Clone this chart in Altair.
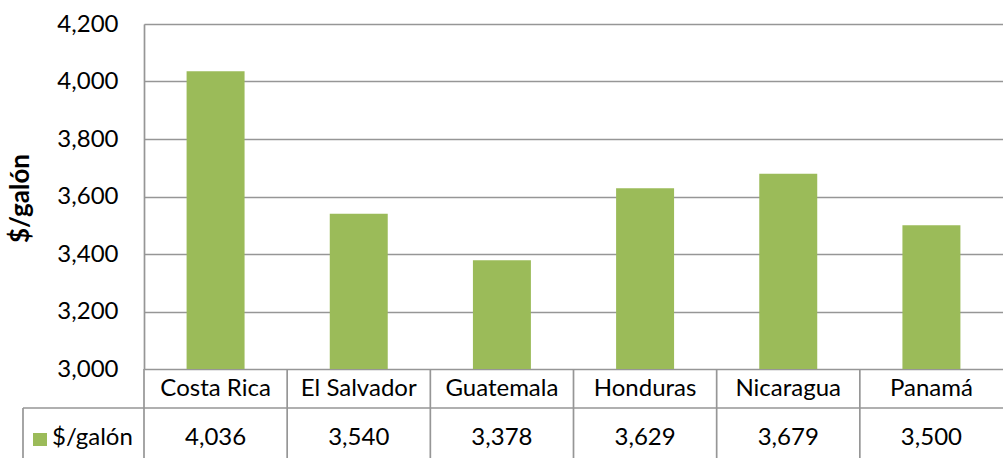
import altair as alt
import pandas as pd

countries = ["Costa Rica", "El Salvador", "Guatemala", "Honduras", "Nicaragua", "Panamá"]
values = [4036, 3540, 3378, 3629, 3679, 3500]
y_ticks = [3000, 3200, 3400, 3600, 3800, 4000, 4200]
series_name = "$/galón"

df = pd.DataFrame({"country": countries, "value": values})
df["label"] = df["value"].map(lambda v: f"{v:,}")
legend_df = pd.DataFrame({"label": [series_name]})

BAR = "#9BBB59"
GRID = "#969696"
FONT = "Lato"
FS = 24

xs = alt.Scale(paddingInner=0, paddingOuter=0)
X = alt.X("country:N", sort=countries, scale=xs, axis=None)

bars = alt.Chart(df).mark_bar(color=BAR, width=alt.RelativeBandSize(0.405), clip=True).encode(
    x=X,
    y=alt.Y(
        "value:Q",
        scale=alt.Scale(domain=[3000, 4200], nice=False, zero=False),
        axis=alt.Axis(
            values=y_ticks, format=",.0f", grid=True, gridColor=GRID, gridWidth=1.7,
            domain=True, domainColor=GRID, domainWidth=1.7, ticks=False,
            labelPadding=26, labelFontSize=FS, labelFont=FONT, labelColor="#000",
            title=series_name, titleFont=FONT, titleFontSize=26, titleFontWeight="bold",
            titleColor="#000", titleAngle=-90, titleX=-124, titleY=174,
            titleAlign="center", titleBaseline="middle",
        ),
    ),
)

seps = alt.Chart(df).mark_rule(color=GRID, strokeWidth=1.7).encode(
    x=alt.X("country:N", sort=countries, scale=xs, axis=None, bandPosition=0),
    y=alt.value(345), y2=alt.value(434),
)

hline = alt.Chart(legend_df).mark_rule(color=GRID, strokeWidth=1.7).encode(
    x=alt.value(-121), x2=alt.value(859), y=alt.value(384)
)
vline = alt.Chart(legend_df).mark_rule(color=GRID, strokeWidth=1.7).encode(
    x=alt.value(-121), y=alt.value(384), y2=alt.value(434)
)

cat_text = alt.Chart(df).mark_text(font=FONT, fontSize=FS, color="#000", baseline="middle").encode(
    x=X, y=alt.value(365), text="country:N"
)
val_text = alt.Chart(df).mark_text(font=FONT, fontSize=FS, color="#000", baseline="middle").encode(
    x=X, y=alt.value(414), text="label:N"
)

leg_sq = alt.Chart(legend_df).mark_rect(color=BAR).encode(
    x=alt.value(-111), x2=alt.value(-97), y=alt.value(409), y2=alt.value(422)
)
leg_txt = alt.Chart(legend_df).mark_text(font=FONT, fontSize=FS, color="#000", align="left", baseline="middle").encode(
    x=alt.value(-92), y=alt.value(414), text="label:N"
)

chart = alt.layer(bars, seps, hline, vline, cat_text, val_text, leg_sq, leg_txt).properties(
    width=859, height=345,
    autosize=alt.AutoSizeParams(type="none"),
    padding={"left": 144, "top": 24, "right": 0, "bottom": 89},
).configure_view(stroke=None).configure(background="white")

chart.save("out.html", embed_options={"renderer": "svg", "actions": False})
